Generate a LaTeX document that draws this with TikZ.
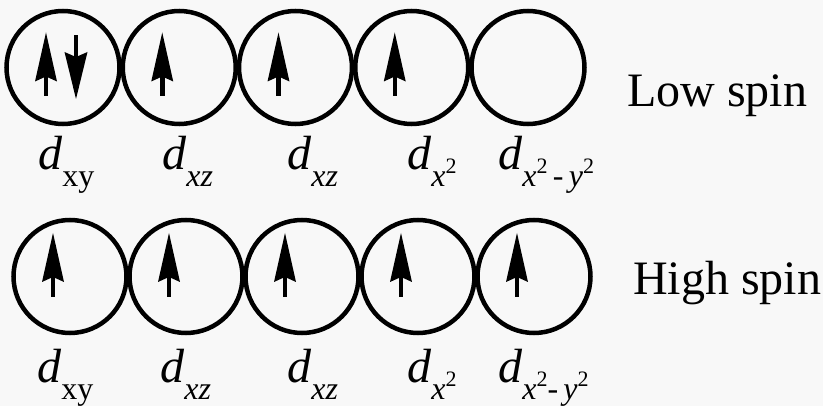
\documentclass[tikz,border=0pt]{standalone}
\usepackage{fontspec}
\setmainfont{Liberation Serif}
\definecolor{bg}{RGB}{248,248,248}
\tikzset{
  orb/.style={circle, draw, line width=4.5pt, minimum size=113pt, inner sep=0pt},
  dlbl/.style={anchor=base west, inner sep=0pt, font=\fontsize{48}{48}\selectfont},
  spinlbl/.style={anchor=base west, inner sep=0pt, font=\fontsize{48}{48}\selectfont},
  upspin/.pic={
    \fill (0,0) -- (11,49) -- (0,44) -- (-11,49) -- cycle;
    \draw[line width=4.5pt] (0,44) -- (0,64);
  },
  downspin/.pic={
    \fill (0,0) -- (11.5,-47) -- (0,-42) -- (-11.5,-47) -- cycle;
    \draw[line width=4.5pt] (0,-42) -- (0,-64);
  }
}
\newcommand\sbx[1]{\raisebox{-17pt}{\fontsize{32}{32}\selectfont #1}}
\newcommand\spx[1]{\raisebox{13pt}{\fontsize{22}{22}\selectfont #1}}
\begin{document}
\begin{tikzpicture}[x=1pt,y=-1pt]
  \fill[bg] (0,0) rectangle (823,406);
  \useasboundingbox (0,0) rectangle (823,406);
  % orbitals
  \foreach \i/\cx in {1/63,2/179.25,3/295.5,4/411.75,5/528} {
    \node[orb] (t\i) at (\cx,67.5) {};
  }
  \foreach \i/\cx in {1/70,2/186,3/302,4/418,5/534} {
    \node[orb] (b\i) at (\cx,276.5) {};
  }
  % spins low spin
  \foreach \i in {1,2,3,4} {
    \pic at ([shift={(-17,-35)}]t\i.center) {upspin};
  }
  \pic at ([shift={(13,31.5)}]t1.center) {downspin};
  % spins high spin
  \foreach \i in {1,2,3,4,5} {
    \pic at ([shift={(-17,-43.5)}]b\i.center) {upspin};
  }
  % labels top
  \node[dlbl] (lt1) at (38,170) {\textit{d}\sbx{xy}};
  \node[dlbl] (lt2) at (162,170) {\textit{d}\sbx{\textit{xz}}};
  \node[dlbl] (lt3) at (287,170) {\textit{d}\sbx{\textit{xz}}};
  \node[dlbl] (lt4) at (407,170) {\textit{d}\sbx{\textit{x}\spx{2}}};
  \node[dlbl] (lt5) at (498,170) {\textit{d}\sbx{\textit{x}\spx{2}\,\textit{-}\,\textit{y}\spx{2}}};
  % labels bottom
  \node[dlbl] (lb1) at (37,383) {\textit{d}\sbx{xy}};
  \node[dlbl] (lb2) at (160,383) {\textit{d}\sbx{\textit{xz}}};
  \node[dlbl] (lb3) at (287,383) {\textit{d}\sbx{\textit{xz}}};
  \node[dlbl] (lb4) at (407,383) {\textit{d}\sbx{\textit{x}\spx{2}}};
  \node[dlbl] (lb5) at (498,383) {\textit{d}\sbx{\textit{x}\spx{2}\textit{-}\,\textit{y}\spx{2}}};
  % spin labels
  \node[spinlbl] (low) at (627,107) {Low spin};
  \node[spinlbl] (high) at (633,295) {High spin};
\end{tikzpicture}
\end{document}
